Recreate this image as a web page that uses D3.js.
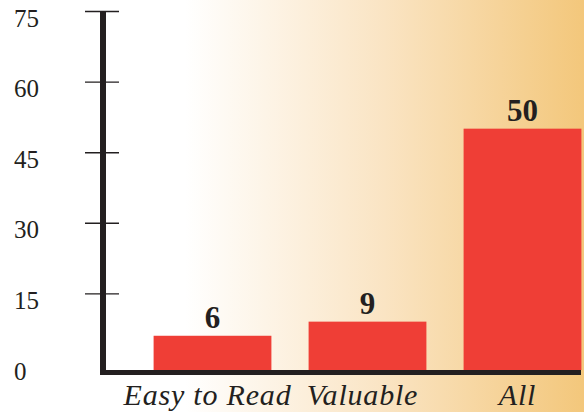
<!DOCTYPE html>
<html>
<head>
<meta charset="utf-8">
<script src="https://cdn.jsdelivr.net/npm/d3@7/dist/d3.min.js"></script>
<style>
  html, body { margin: 0; padding: 0; background: #fff; }
  svg { display: block; }
</style>
</head>
<body>
<svg id="chart" width="584" height="412"></svg>
<script>
// Survey results by category
const categories = ["Easy to Read", "Valuable", "All"];
const values = [6, 9, 50];
const tickValues = [0, 15, 30, 45, 60, 75];

const W = 584, H = 412;
const svg = d3.select("#chart");
const ink = "#231F20";
const barColor = "#EF3E36";

// warm backdrop fading in from the left
const defs = svg.append("defs");
const grad = defs.append("linearGradient")
  .attr("id", "warm")
  .attr("gradientUnits", "userSpaceOnUse")
  .attr("x1", 185).attr("y1", 0).attr("x2", W).attr("y2", 0);
grad.append("stop").attr("offset", 0).attr("stop-color", "#FFFFFF");
grad.append("stop").attr("offset", 0.5).attr("stop-color", "#FAE4C3");
grad.append("stop").attr("offset", 1).attr("stop-color", "#F3C77B");
svg.append("rect").attr("x", 0).attr("y", 0).attr("width", W).attr("height", H)
  .attr("fill", "url(#warm)");

const baseY = 370;     // top edge of the x-axis rule
const axisX = 103;     // centre of the y-axis rule

const y = d3.scaleLinear().domain([0, 75]).range([364, 11]);
const x = d3.scaleBand().domain(categories).range([135, 600])
  .paddingInner(0.24).paddingOuter(0.12);

// bars
svg.append("g").selectAll("rect")
  .data(values)
  .join("rect")
  .attr("x", (d, i) => x(categories[i]))
  .attr("y", d => y(d))
  .attr("width", x.bandwidth())
  .attr("height", d => baseY - y(d))
  .attr("fill", barColor);

// value labels
svg.append("g").selectAll("text")
  .data(values)
  .join("text")
  .attr("x", (d, i) => x(categories[i]) + x.bandwidth() / 2)
  .attr("y", d => y(d) - 8)
  .attr("text-anchor", "middle")
  .attr("font-family", "'Liberation Serif', 'DejaVu Serif', serif")
  .attr("font-weight", "bold")
  .attr("font-size", 31)
  .attr("fill", ink)
  .text(d => d);

// y axis: ticks and labels
const yAxis = d3.axisLeft(y).tickValues(tickValues.filter(v => v > 0))
  .tickSize(0).tickFormat("");
const gy = svg.append("g").attr("transform", `translate(${axisX},0)`).call(yAxis);
gy.select(".domain").remove();
gy.selectAll(".tick line")
  .attr("x1", -18).attr("x2", 16)
  .attr("stroke", ink).attr("stroke-width", 1.4);

svg.append("g").selectAll("text")
  .data(tickValues)
  .join("text")
  .attr("x", 14)
  .attr("y", d => y(d) + 7)
  .attr("dominant-baseline", "central")
  .attr("font-family", "'Liberation Serif', 'DejaVu Serif', serif")
  .attr("font-size", 25)
  .attr("fill", ink)
  .text(d => d);

// axis rules
svg.append("line")
  .attr("x1", axisX).attr("x2", axisX)
  .attr("y1", y(75)).attr("y2", baseY + 5)
  .attr("stroke", ink).attr("stroke-width", 6);
svg.append("line")
  .attr("x1", axisX - 3).attr("x2", 581)
  .attr("y1", baseY + 2.5).attr("y2", baseY + 2.5)
  .attr("stroke", ink).attr("stroke-width", 5);

// category labels
svg.append("g").selectAll("text")
  .data(categories)
  .join("text")
  .attr("x", d => x(d) + x.bandwidth() / 2 - 5)
  .attr("y", 405)
  .attr("text-anchor", "middle")
  .attr("font-family", "'Liberation Serif', 'DejaVu Serif', serif")
  .attr("font-style", "italic")
  .attr("font-size", 30)
  .attr("letter-spacing", 0.8)
  .attr("fill", ink)
  .text(d => d);
</script>
</body>
</html>
